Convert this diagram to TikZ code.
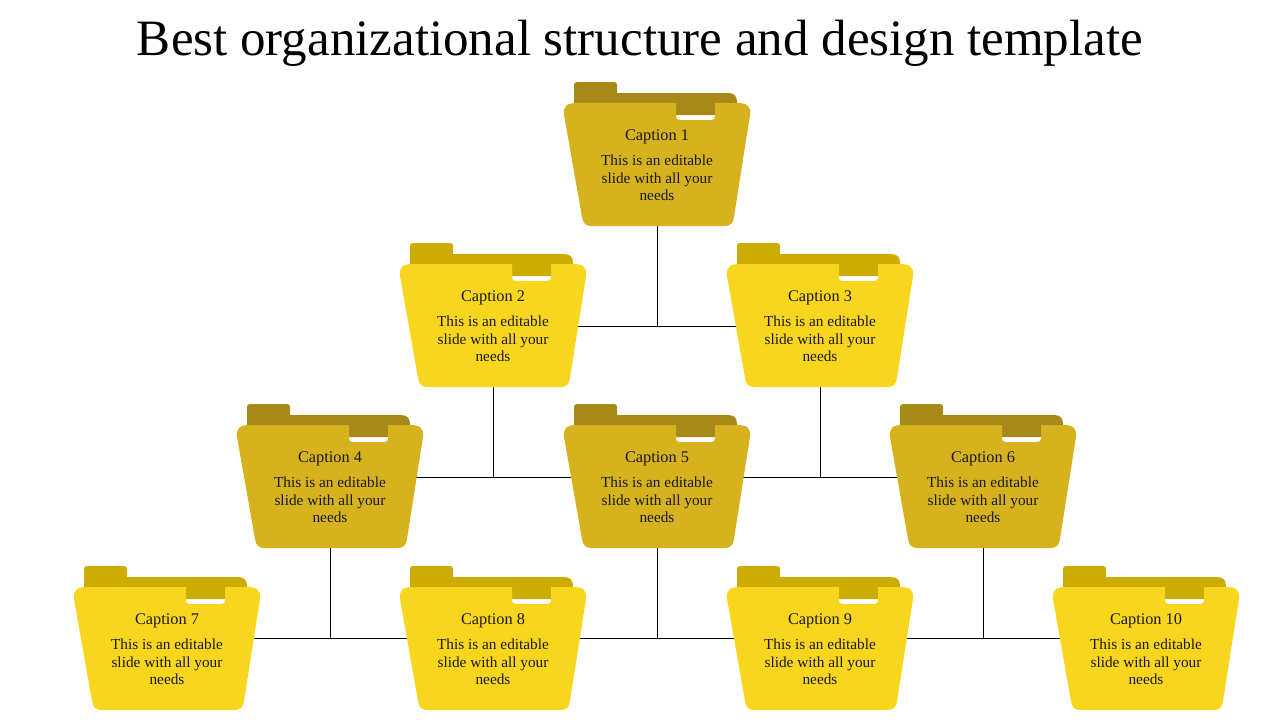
\documentclass[tikz,border=0pt]{standalone}
\usepackage{fontspec}
\setmainfont{Liberation Serif}
\definecolor{dfront}{RGB}{214,179,30}
\definecolor{dback}{RGB}{166,137,23}
\definecolor{lfront}{RGB}{249,214,30}
\definecolor{lback}{RGB}{204,172,0}
\tikzset{
  conn/.style={draw=black, line width=0.9pt},
  captxt/.style={font=\fontsize{16.3}{17.5}\selectfont, inner sep=0pt, text=black!90},
  bodytxt/.style={font=\fontsize{15.3}{17.5}\selectfont, align=center, inner sep=0pt, text=black!90},
  titletxt/.style={font=\fontsize{51}{56}\selectfont, inner sep=0pt}
}
\newcommand\FolderDraw[6]{%
\begin{scope}[shift={(#2,#3)}]
  \fill[#5] (-83,12) -- (-83,-18) .. controls (-83,-20) and (-82,-21) .. (-80,-21) -- (-43,-21) .. controls (-41,-21) and (-40,-20) .. (-40,-18) -- (-40,-10) -- (71,-10) .. controls (77,-10) and (80,-7) .. (80,-1) -- (80,12) -- cycle;
  \fill[#4] (-93,12) .. controls (-94,3) and (-90,0) .. (-80,0) -- (19,0) -- (19,13) .. controls (19,16) and (20,17) .. (23,17) -- (54,17) .. controls (57,17) and (58,16) .. (58,13) -- (58,0) -- (80,0) .. controls (90,0) and (94,3) .. (93,12) -- (77,114) .. controls (76,120) and (74,123) .. (67,123) -- (-65,123) .. controls (-72,123) and (-74,120) .. (-75,114) -- cycle;
  \node[captxt] (#1) at (0,34) {Caption #6};
  \node[bodytxt] (#1t) at (0,75) {This is an editable\\slide with all your\\needs};
\end{scope}}
\begin{document}
\begin{tikzpicture}[x=1pt,y=-1pt]
\useasboundingbox (0,0) rectangle (1280,720);
\node[titletxt] (title) at (640,43) {Best organizational structure and design template};
% connector anchor points
\coordinate (b1) at (657,226);
\coordinate (b2) at (493,387);
\coordinate (b3) at (820,387);
\coordinate (b4) at (330,548);
\coordinate (b5) at (657,548);
\coordinate (b6) at (983,548);
\coordinate (m2) at (493,326);
\coordinate (m3) at (820,326);
\coordinate (m4) at (330,477);
\coordinate (m6) at (983,477);
\coordinate (m7) at (167,638);
\coordinate (m10) at (1146,638);
\draw[conn] (b1) -- (b1 |- m2);
\draw[conn] (m2) -- (m3);
\draw[conn] (b2) -- (b2 |- m4);
\draw[conn] (b3) -- (b3 |- m4);
\draw[conn] (m4) -- (m6);
\draw[conn] (b4) -- (b4 |- m7);
\draw[conn] (b5) -- (b5 |- m7);
\draw[conn] (b6) -- (b6 |- m7);
\draw[conn] (m7) -- (m10);
% folders
\FolderDraw{f1}{657}{103}{dfront}{dback}{1}
\FolderDraw{f2}{493}{264}{lfront}{lback}{2}
\FolderDraw{f3}{820}{264}{lfront}{lback}{3}
\FolderDraw{f4}{330}{425}{dfront}{dback}{4}
\FolderDraw{f5}{657}{425}{dfront}{dback}{5}
\FolderDraw{f6}{983}{425}{dfront}{dback}{6}
\FolderDraw{f7}{167}{587}{lfront}{lback}{7}
\FolderDraw{f8}{493}{587}{lfront}{lback}{8}
\FolderDraw{f9}{820}{587}{lfront}{lback}{9}
\FolderDraw{f10}{1146}{587}{lfront}{lback}{10}
\end{tikzpicture}
\end{document}
